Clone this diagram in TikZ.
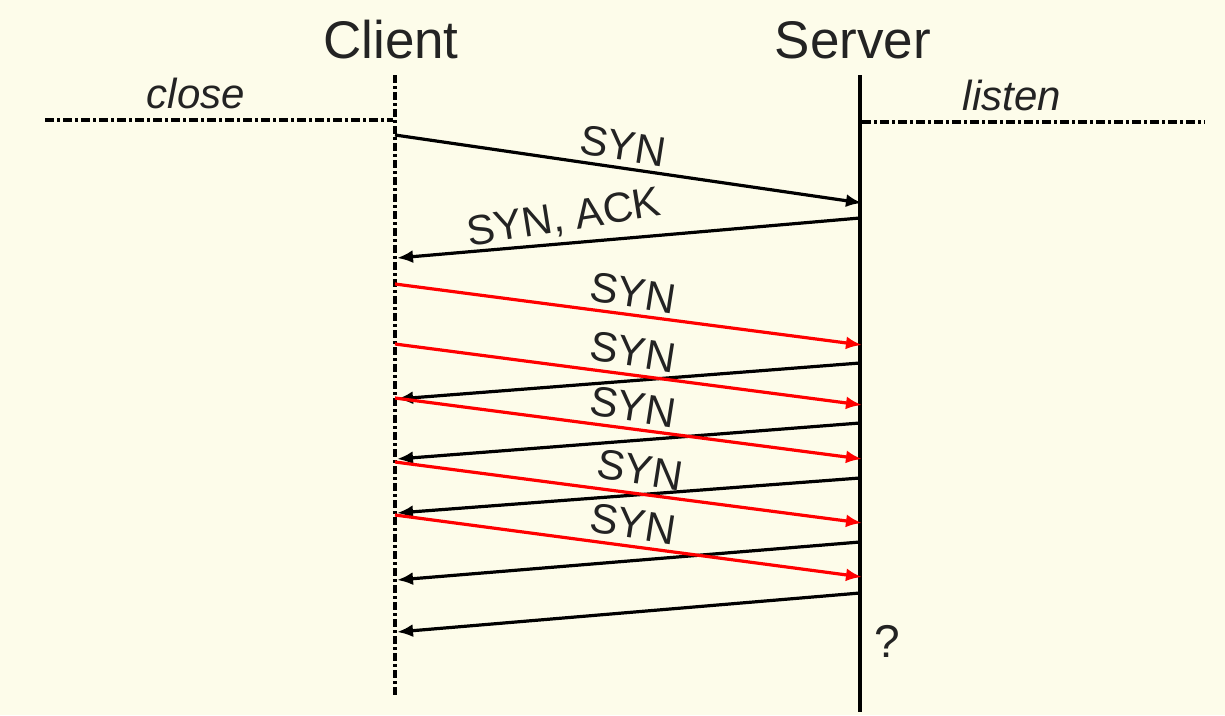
\documentclass[tikz,border=0pt]{standalone}
\usepackage{fontspec}
\setmainfont{Liberation Sans}
\usetikzlibrary{arrows.meta}
\definecolor{bg}{RGB}{253,252,234}
\definecolor{txt}{RGB}{35,35,35}
\definecolor{msgred}{RGB}{255,0,0}
\tikzset{
  lifeclient/.style={line width=3.2pt, dash pattern=on 8pt off 3pt on 3pt off 3pt},
  lifeserver/.style={line width=3.4pt},
  statusline/.style={line width=3.2pt, dash pattern=on 9pt off 3pt on 3pt off 3pt},
  msg/.style={line width=3.2pt, -{Latex[length=16pt,width=13pt]}},
  msgblack/.style={msg, black},
  msgr/.style={msg, msgred},
  title/.style={font=\fontsize{53}{60}\selectfont, text=txt, inner sep=0pt},
  state/.style={font=\fontsize{42}{48}\selectfont\itshape, text=txt, inner sep=0pt},
  lbl/.style={font=\fontsize{42}{48}\selectfont, text=txt, inner sep=0pt},
}
\begin{document}
\begin{tikzpicture}[x=1pt,y=-1pt]
\fill[bg] (0,0) rectangle (1225,715);
\useasboundingbox (0,0) rectangle (1225,715);
% titles
\node[title, anchor=base] (client) at (391,58) {Client};
\node[title, anchor=base] (server) at (853,58) {Server};
% lifelines
\coordinate (ctop) at (395,75);
\coordinate (cbot) at (395,697);
\coordinate (stop) at (860,75);
\coordinate (sbot) at (860,712);
\draw[lifeclient] (ctop) -- (cbot);
\draw[lifeserver] (stop) -- (sbot);
% state lines
\coordinate (closeL) at (45,120);
\coordinate (closeR) at (393,120);
\coordinate (listenL) at (862,122);
\coordinate (listenR) at (1205,122);
\draw[statusline] (closeL) -- (closeR);
\draw[statusline] (listenL) -- (listenR);
\node[state, anchor=base] (close) at (196,108) {close};
\node[state, anchor=base] (listen) at (1012,110) {listen};
% messages
\coordinate (a1) at (395,135); \coordinate (b1) at (862,203);
\coordinate (a2) at (860,218); \coordinate (b2) at (397,258);
\coordinate (a3) at (395,284); \coordinate (b3) at (862,345);
\coordinate (a4) at (395,344); \coordinate (b4) at (862,405);
\coordinate (a5) at (860,363); \coordinate (b5) at (397,399);
\coordinate (a6) at (395,398); \coordinate (b6) at (862,459);
\coordinate (a7) at (860,423); \coordinate (b7) at (397,459);
\coordinate (a8) at (395,462); \coordinate (b8) at (862,523);
\coordinate (a9) at (860,478); \coordinate (b9) at (397,513);
\coordinate (a10) at (395,515); \coordinate (b10) at (862,577);
\coordinate (a11) at (860,542); \coordinate (b11) at (397,580);
\coordinate (a12) at (860,593); \coordinate (b12) at (397,632);
\draw[msgblack] (a1) -- (b1);
\draw[msgblack] (a2) -- (b2);
\draw[msgblack] (a5) -- (b5);
\draw[msgblack] (a7) -- (b7);
\draw[msgblack] (a9) -- (b9);
\draw[msgblack] (a11) -- (b11);
\draw[msgblack] (a12) -- (b12);
\draw[msgr] (a3) -- (b3);
\draw[msgr] (a4) -- (b4);
\draw[msgr] (a6) -- (b6);
\draw[msgr] (a8) -- (b8);
\draw[msgr] (a10) -- (b10);
% labels
\node[lbl, rotate=-9] (l1) at (623,146) {SYN};
\node[lbl, rotate=9] (l2) at (564,219) {SYN, ACK};
\node[lbl, rotate=-9] (l3) at (633,293) {SYN};
\node[lbl, rotate=-9] (l4) at (633,352) {SYN};
\node[lbl, rotate=-9] (l6) at (633,407) {SYN};
\node[lbl, rotate=-9] (l8) at (640,470) {SYN};
\node[lbl, rotate=-9] (l10) at (633,524) {SYN};
\node[font=\fontsize{46}{52}\selectfont, text=txt, inner sep=0pt] (q) at (887,641) {?};
\end{tikzpicture}
\end{document}
